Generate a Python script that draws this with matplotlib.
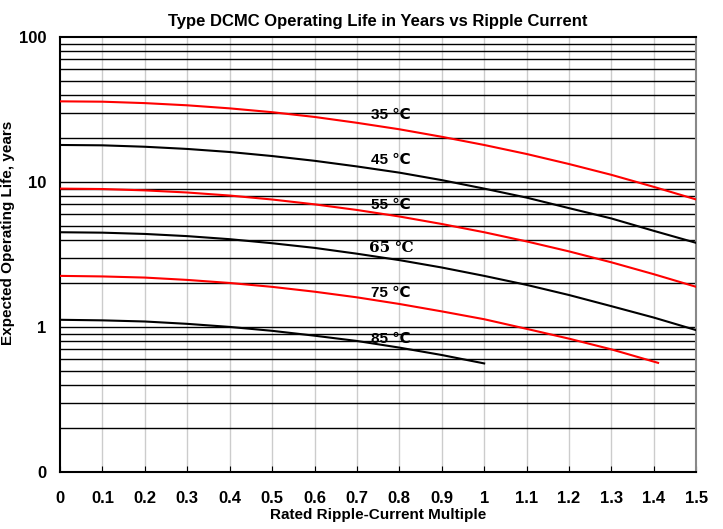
import matplotlib
matplotlib.use('Agg')
import matplotlib.pyplot as plt
from matplotlib.ticker import FixedLocator, NullFormatter

plt.rcParams['font.family'] = ['Liberation Sans', 'DejaVu Sans']
plt.rcParams['font.weight'] = 'bold'

# ripple current multiple
x = [0.0, 0.1, 0.2, 0.3, 0.4, 0.5, 0.6, 0.7, 0.8, 0.9, 1.0, 1.1, 1.2, 1.3, 1.4, 1.5]
life_35 = [36, 35.8, 35.0, 33.8, 32.2, 30.3, 28.1, 25.6, 23.1, 20.5, 18.0, 15.6, 13.3, 11.2, 9.25, 7.57]
life_45 = [18, 17.9, 17.5, 16.9, 16.1, 15.1, 14.0, 12.8, 11.6, 10.3, 9.0, 7.8, 6.6, 5.6, 4.6, 3.8]
life_55 = [9.0, 8.94, 8.75, 8.46, 8.06, 7.57, 7.01, 6.41, 5.78, 5.13, 4.5, 3.89, 3.32, 2.79, 2.31, 1.89]
life_65 = [4.5, 4.47, 4.38, 4.23, 4.03, 3.78, 3.51, 3.2, 2.89, 2.57, 2.25, 1.95, 1.66, 1.39, 1.16, 0.95]
x_75 = [0.0, 0.1, 0.2, 0.3, 0.4, 0.5, 0.6, 0.7, 0.8, 0.9, 1.0, 1.1, 1.2, 1.3, 1.41]
life_75 = [2.25, 2.23, 2.19, 2.11, 2.01, 1.89, 1.75, 1.6, 1.44, 1.28, 1.13, 0.97, 0.83, 0.70, 0.565]
x_85 = [0.0, 0.1, 0.2, 0.3, 0.4, 0.5, 0.6, 0.7, 0.8, 0.9, 1.0]
life_85 = [1.12, 1.11, 1.09, 1.05, 1.0, 0.94, 0.87, 0.80, 0.72, 0.64, 0.56]

labels = ['35 ℃', '45 ℃', '55 ℃', '65 ℃', '75 ℃', '85 ℃']
label_y = [29, 14.2, 6.9, 3.5, 1.71, 0.83]

fig = plt.figure(figsize=(7.23, 5.29), dpi=100)
ax = fig.add_axes([0.083, 0.108, 0.880, 0.822])

#curves
ax.plot(x, life_35, c='red', lw=1.5, zorder=3)
ax.plot(x, life_45, c='black', lw=1.5, zorder=3)
ax.plot(x, life_55, c='red', lw=1.5, zorder=3)
ax.plot(x, life_65, c='black', lw=1.5, zorder=3)
ax.plot(x_75, life_75, c='red', lw=1.5, zorder=3)
ax.plot(x_85, life_85, c='black', lw=1.5, zorder=3)

for i in range(len(labels)):
    fam = ['DejaVu Serif'] if i == 3 else ['Liberation Sans', 'DejaVu Sans']
    ax.text(0.78, label_y[i], labels[i], ha='center', va='center', fontsize=11,
            fontweight='bold', family=fam, zorder=4)

ax.set_yscale('log')
ax.set_xlim(0, 1.5)
ax.set_ylim(0.1, 100)

#gridlines
hlines = [j * 10 ** k for k in (-1, 0, 1) for j in range(2, 10)] + [1, 10]
for h in hlines:
    ax.axhline(h, color='black', lw=1.0, zorder=1)
for v in range(1, 15):
    ax.axvline(v / 10, color='#cccccc', lw=1.0, zorder=0)

xt = [i / 10 for i in range(16)]
ax.set_xticks(xt)
ax.set_xticklabels(['0', '0.1', '0.2', '0.3', '0.4', '0.5', '0.6', '0.7', '0.8', '0.9',
                    '1', '1.1', '1.2', '1.3', '1.4', '1.5'])
ax.yaxis.set_major_locator(FixedLocator([0.1, 1, 10, 100]))
ax.set_yticklabels(['0', '1', '10', '100'])
ax.yaxis.set_minor_locator(FixedLocator([]))
ax.yaxis.set_minor_formatter(NullFormatter())
ax.tick_params(axis='x', direction='in', length=4, labelsize=12, pad=14)
ax.tick_params(axis='y', length=0, labelsize=12, pad=10)
for lab in ax.get_xticklabels() + ax.get_yticklabels():
    lab.set_fontweight('bold')

for s in ax.spines.values():
    s.set_linewidth(1.5)
ax.spines['right'].set_color('#888888')
ax.spines['top'].set_color('black')

ax.set_title('Type DCMC Operating Life in Years vs Ripple Current', fontsize=12, fontweight='bold', pad=8)
ax.set_xlabel('Rated Ripple-Current Multiple', fontsize=11, fontweight='bold', labelpad=1)
ax.set_ylabel('Expected Operating Life, years', fontsize=11, fontweight='bold')
ax.yaxis.set_label_coords(-0.071, 0.55)

plt.savefig('out.png', dpi=100)
